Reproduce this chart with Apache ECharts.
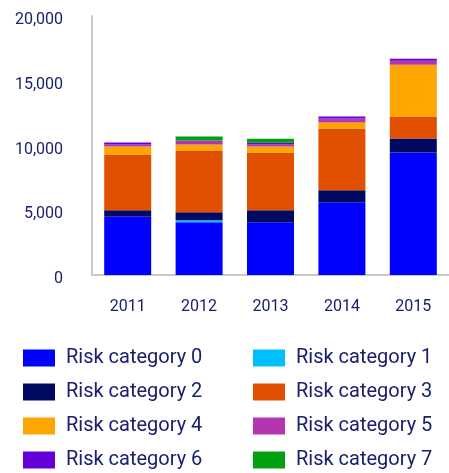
<!DOCTYPE html>
<html>
<head>
<meta charset="utf-8">
<script src="https://cdn.jsdelivr.net/npm/echarts@6/dist/echarts.min.js"></script>
<style>
html,body{margin:0;padding:0;background:#fff;}
#chart{width:449px;height:473px;}
</style>
</head>
<body>
<div id="chart"></div>
<script>
// Years on the category axis
var years = ['2011', '2012', '2013', '2014', '2015'];

// Exposure per risk category, stacked per year
var riskCat0 = [4540, 4080, 4080, 5620, 9460];
var riskCat1 = [0, 150, 0, 0, 0];
var riskCat2 = [460, 620, 920, 920, 1080];
var riskCat3 = [4310, 4770, 4460, 4770, 1690];
var riskCat4 = [620, 460, 460, 460, 4000];
var riskCat5 = [150, 310, 150, 310, 310];
var riskCat6 = [150, 0, 150, 150, 150];
var riskCat7 = [0, 310, 310, 0, 0];

var seriesNames = ['Risk category 0', 'Risk category 1', 'Risk category 2', 'Risk category 3',
                   'Risk category 4', 'Risk category 5', 'Risk category 6', 'Risk category 7'];
var seriesValues = [riskCat0, riskCat1, riskCat2, riskCat3, riskCat4, riskCat5, riskCat6, riskCat7];
var seriesColors = ['#0000ff', '#00bfff', '#000a60', '#e05000', '#ffa500', '#b535b0', '#6600d8', '#00a010'];

var textColor = '#1a2070';
var font = 'Roboto';

var chart = echarts.init(document.getElementById('chart'), null, {renderer: 'canvas'});

var legendBase = {
  orient: 'vertical',
  top: 348,
  height: 130,
  padding: 0,
  itemWidth: 32,
  itemHeight: 17,
  itemGap: 14,
  icon: 'rect',
  selectedMode: false,
  textStyle: {fontFamily: font, fontSize: 20, color: textColor, padding: [0, 0, 0, 6]}
};

chart.setOption({
  animation: false,
  color: seriesColors,
  grid: {left: 92, top: 16, width: 370, height: 259},
  legend: [
    Object.assign({}, legendBase, {left: 23, data: [seriesNames[0], seriesNames[2], seriesNames[4], seriesNames[6]]}),
    Object.assign({}, legendBase, {left: 253, data: [seriesNames[1], seriesNames[3], seriesNames[5], seriesNames[7]]})
  ],
  xAxis: {
    type: 'category',
    data: years,
    axisLine: {show: true, lineStyle: {color: '#c8c8c8', width: 2}},
    axisTick: {show: false},
    axisLabel: {fontFamily: font, fontSize: 16, color: textColor, margin: 24}
  },
  yAxis: {
    type: 'value',
    min: 0,
    max: 20000,
    interval: 5000,
    axisLine: {show: true, lineStyle: {color: '#c8c8c8', width: 2}},
    axisTick: {show: false},
    splitLine: {show: false},
    axisLabel: {
      fontFamily: font, fontSize: 16, color: textColor, margin: 29,
      verticalAlign: 'top',
      lineHeight: 16,
      padding: [-4, 0, 0, 0],
      formatter: function (v) { return v.toLocaleString('en-US'); }
    }
  },
  series: seriesNames.map(function (name, i) {
    return {
      name: name,
      type: 'bar',
      stack: 'total',
      barWidth: 47,
      data: seriesValues[i],
      itemStyle: {color: seriesColors[i]}
    };
  })
});
</script>
</body>
</html>
